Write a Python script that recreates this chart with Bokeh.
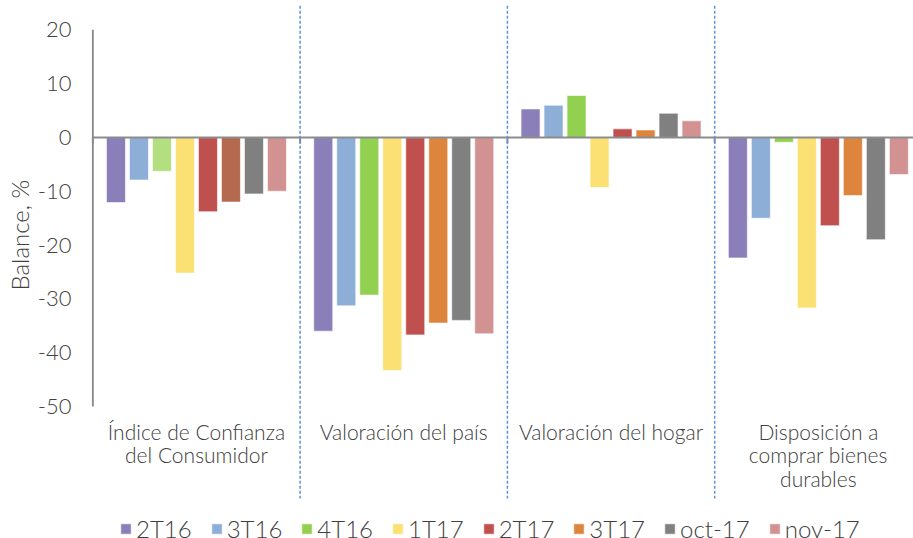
import math
from bokeh.plotting import figure
from bokeh.models import (Range1d, FixedTicker, Title, Legend, LegendItem,
                          ColumnDataSource, CustomJSTickFormatter)
from bokeh.core.properties import value
from bokeh.embed import file_html
from bokeh.resources import INLINE

# ---------------- data ----------------
categories = ["Índice de Confianza\ndel Consumidor", "Valoración del país",
              "Valoración del hogar", "Disposición a\ncomprar bienes\ndurables"]
series = ["2T16", "3T16", "4T16", "1T17", "2T17", "3T17", "oct-17", "nov-17"]
v_2T16 = [-12.1, -36.0, 5.3, -22.4]
v_3T16 = [-7.9, -31.3, 6.0, -15.0]
v_4T16 = [-6.3, -29.3, 7.8, -0.9]
v_1T17 = [-25.2, -43.3, -9.3, -31.7]
v_2T17 = [-13.8, -36.7, 1.6, -16.4]
v_3T17 = [-12.0, -34.5, 1.4, -10.8]
v_oct17 = [-10.5, -34.0, 4.5, -19.0]
v_nov17 = [-10.0, -36.5, 3.1, -6.9]
values = [v_2T16, v_3T16, v_4T16, v_1T17, v_2T17, v_3T17, v_oct17, v_nov17]
series_colors = ["#8A7FB9", "#8DAED6", "#92D050", "#FBE074",
                 "#C0504D", "#DD843D", "#808080", "#D39292"]
first_group_colors = ["#8A7FB9", "#8DAED6", "#B3DF80", "#FBE074",
                      "#C0504D", "#B5694F", "#808080", "#D39292"]
y_ticks = [20, 10, 0, -10, -20, -30, -40, -50]

FONT = "Lato Light"
TXT = "#404040"

p = figure(width=913, height=538, output_backend="svg", toolbar_location=None,
           x_range=Range1d(-0.0063, 3.959), y_range=Range1d(-74.54, 25.46),
           min_border_left=91, min_border_right=0, min_border_top=0, min_border_bottom=0)
p.xaxis.visible = False
p.xgrid.visible = False
p.ygrid.visible = False
p.outline_line_color = None
p.background_fill_color = "white"
p.border_fill_color = "white"

yax = p.yaxis[0]
yax.ticker = FixedTicker(ticks=y_ticks)
yax.formatter = CustomJSTickFormatter(code="return tick.toString();")
yax.axis_line_color = None
yax.major_tick_line_color = None
yax.minor_tick_line_color = None
yax.major_tick_out = 0
yax.major_tick_in = 0
yax.major_label_standoff = 20
yax.major_label_text_font = FONT
yax.major_label_text_font_size = "22px"
yax.major_label_text_color = TXT

# bars
n = len(series)
step = 23 / 207.3
bw = 19 / 207.3
items = []
for i, (name, vals) in enumerate(zip(series, values)):
    xs = [g + 0.5 + (i - (n - 1) / 2) * step for g in range(len(categories))]
    cols = [first_group_colors[i]] + [series_colors[i]] * (len(categories) - 1)
    src = ColumnDataSource(dict(x=xs, top=vals, color=cols))
    r = p.vbar(x="x", top="top", bottom=0, width=bw, fill_color="color",
               line_color="white", line_width=0.6, source=src)
    items.append(LegendItem(label=name, renderers=[r], index=1))

# axis lines
p.segment(x0=[0], y0=[y_ticks[0]], x1=[0], y1=[y_ticks[-1]], line_color="#8C8C8C", line_width=2)
p.segment(x0=[0], y0=[0], x1=[len(categories)], y1=[0], line_color="#8C8C8C", line_width=2)
bounds = list(range(len(categories)))
p.segment(x0=bounds, y0=[0] * len(bounds), x1=bounds, y1=[-1.1] * len(bounds),
          line_color="#8C8C8C", line_width=2)

# separators
seps = list(range(1, len(categories)))
p.segment(x0=seps, y0=[24.5] * len(seps), x1=seps, y1=[-67.1] * len(seps),
          line_color="#5E93D4", line_width=1.5, line_dash="3 2")

# category labels
lx, ly, lt = [], [], []
for g, c in enumerate(categories):
    for k, line in enumerate(c.split("\n")):
        lx.append(g + 0.5)
        ly.append(-54.6 - k * 4.35)
        lt.append(line)
p.text(x=lx, y=ly, text=lt, text_align="center", text_baseline="middle",
       text_font=value(FONT), text_font_size="21px", text_color=TXT)

# y axis title
p.add_layout(Title(text="Balance, %", align="left", offset=248, standoff=2,
                   text_font=FONT, text_font_size="24px", text_font_style="normal",
                   text_color=TXT), "left")

legend = Legend(items=items, orientation="horizontal", location=(28, -5),
                glyph_width=13, glyph_height=13, label_standoff=4, spacing=18,
                padding=0, margin=0, border_line_color=None, background_fill_alpha=0,
                label_text_font=FONT, label_text_font_size="24px", label_text_color=TXT)
p.add_layout(legend)

open("out.html", "w").write(file_html(p, INLINE))
